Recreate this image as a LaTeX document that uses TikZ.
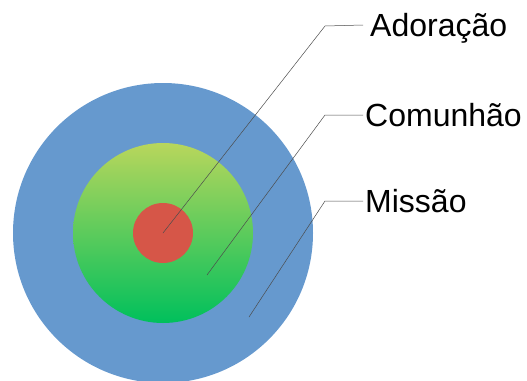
\documentclass[tikz,border=0pt]{standalone}
\usepackage{fontspec}
\setmainfont{Liberation Sans}
\usepackage{xcolor}
\usepackage{tikz}
\usetikzlibrary{positioning}
\definecolor{missaoblue}{RGB}{102,153,206}
\definecolor{comtop}{RGB}{184,214,92}
\definecolor{combottom}{RGB}{0,192,92}
\definecolor{adored}{RGB}{214,86,72}
\tikzstyle{ring} = [circle, inner sep=0pt, outer sep=0pt]
\tikzstyle{tag} = [anchor=west, inner xsep=2pt, inner ysep=0pt, text height=22.9pt, text depth=0pt, font=\fontsize{32}{38}\selectfont]
\tikzstyle{leader} = [draw=black!70, line width=0.5pt]

\begin{document}
\begin{tikzpicture}[x=1pt,y=-1pt]
				\useasboundingbox (0,0) rectangle (527,380);

				\node (missao) [ring, fill=missaoblue, minimum size=300pt] at (163,233) {};
				\node (comunhao) [ring, top color=comtop, bottom color=combottom, minimum size=180pt] at (163,233) {};
				\node (adoracao) [ring, fill=adored, minimum size=60pt] at (163,233) {};

				\coordinate (pa) at (163,233);
				\coordinate (pc) at (207,275);
				\coordinate (pm) at (249,317);
				\coordinate (ka) at (325,26);
				\coordinate (kc) at (325,115);
				\coordinate (km) at (325,201);

				\node (tadoracao) [tag, inner xsep=7pt] at (363,25) {Adoração};
				\node (tcomunhao) [tag] at (363,115) {Comunhão};
				\node (tmissao) [tag] at (363,201) {Missão};

				\draw [leader] (pa) -- (ka) -- (tadoracao.west);
				\draw [leader] (pc) -- (kc) -- (tcomunhao.west);
				\draw [leader] (pm) -- (km) -- (tmissao.west);

\end{tikzpicture}
\end{document}
